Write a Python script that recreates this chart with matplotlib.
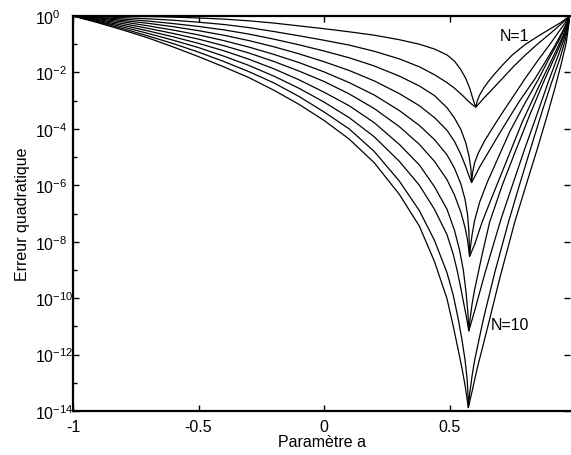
import numpy as np
import matplotlib
matplotlib.use("Agg")
import matplotlib.pyplot as plt
from matplotlib.ticker import FixedLocator, FuncFormatter, NullFormatter

plt.rcParams["font.family"] = "Liberation Sans"
plt.rcParams["mathtext.fontset"] = "custom"
plt.rcParams["mathtext.rm"] = "Liberation Sans"
plt.rcParams["mathtext.it"] = "Liberation Sans:italic"
plt.rcParams["axes.unicode_minus"] = False

# valeurs : log10 de l'erreur quadratique, N = 1..10
# branche gauche, grille commune en a
LEFT_A = [-1.0, -0.9, -0.8, -0.7, -0.6, -0.5, -0.4, -0.3, -0.2, -0.1,
          0.0, 0.1, 0.2, 0.3, 0.38, 0.44, 0.49]
LEFT_LOG = [
    [0, -0.003, -0.01, -0.02, -0.04, -0.07, -0.11, -0.17, -0.25, -0.35,
     -0.45, -0.56, -0.68, -0.84, -1.00, -1.17, -1.38],
    [0, -0.025, -0.06, -0.10, -0.15, -0.22, -0.30, -0.41, -0.55, -0.70,
     -0.86, -1.03, -1.25, -1.52, -1.80, -2.08, -2.36],
    [0, -0.05, -0.11, -0.18, -0.27, -0.37, -0.49, -0.64, -0.82, -1.02,
     -1.24, -1.48, -1.77, -2.13, -2.48, -2.82, -3.25],
    [0, -0.07, -0.16, -0.26, -0.38, -0.52, -0.68, -0.87, -1.09, -1.34,
     -1.62, -1.93, -2.30, -2.75, -3.18, -3.60, -4.05],
    [0, -0.10, -0.21, -0.35, -0.50, -0.67, -0.87, -1.10, -1.36, -1.65,
     -1.98, -2.36, -2.80, -3.35, -3.88, -4.38, -4.92],
    [0, -0.13, -0.27, -0.44, -0.62, -0.82, -1.05, -1.31, -1.61, -1.95,
     -2.32, -2.76, -3.28, -3.92, -4.55, -5.15, -5.80],
    [0, -0.16, -0.33, -0.53, -0.74, -0.97, -1.23, -1.53, -1.87, -2.26,
     -2.70, -3.18, -3.78, -4.55, -5.28, -6.05, -6.85],
    [0, -0.19, -0.39, -0.62, -0.86, -1.12, -1.42, -1.75, -2.13, -2.56,
     -3.05, -3.60, -4.28, -5.15, -6.00, -6.85, -7.75],
    [0, -0.21, -0.45, -0.71, -0.98, -1.28, -1.61, -1.97, -2.37, -2.85,
     -3.40, -4.00, -4.80, -5.85, -6.90, -7.95, -9.10],
    [0, -0.24, -0.50, -0.78, -1.10, -1.44, -1.80, -2.18, -2.63, -3.13,
     -3.70, -4.36, -5.20, -6.32, -7.45, -8.70, -10.02],
]

# descente vers le minimum (dernier point = minimum)
TAIL_A = [
    [0.52, 0.545, 0.565, 0.58, 0.592, 0.6, 0.605],
    [0.52, 0.55, 0.575, 0.593, 0.605],
    [0.52, 0.545, 0.565, 0.578, 0.585, 0.588],
    [0.52, 0.545, 0.565, 0.578, 0.588],
    [0.52, 0.545, 0.562, 0.572, 0.577, 0.58],
    [0.52, 0.545, 0.562, 0.572, 0.58],
    [0.52, 0.54, 0.555, 0.566, 0.573, 0.577],
    [0.515, 0.53, 0.545, 0.558, 0.568, 0.577],
    [0.515, 0.535, 0.55, 0.562, 0.57, 0.573, 0.575],
    [0.515, 0.535, 0.55, 0.563, 0.575],
]
TAIL_LOG = [
    [-1.6, -1.9, -2.22, -2.55, -2.9, -3.12, -3.23],
    [-2.56, -2.8, -3.02, -3.16, -3.23],
    [-3.62, -4.02, -4.5, -4.98, -5.4, -5.9],
    [-4.45, -4.9, -5.35, -5.68, -5.9],
    [-5.4, -5.95, -6.5, -7.05, -7.6, -8.52],
    [-6.35, -6.95, -7.5, -7.95, -8.52],
    [-7.6, -8.3, -9.0, -9.8, -10.5, -11.16],
    [-8.45, -9.0, -9.65, -10.25, -10.7, -11.16],
    [-9.9, -10.75, -11.5, -12.2, -12.85, -13.3, -13.88],
    [-11.0, -11.85, -12.5, -13.15, -13.88],
]

# remontee a droite du minimum jusqu'au coin superieur droit
RIGHT_A = [
    [0.61, 0.62, 0.635, 0.655, 0.68, 0.71, 0.75, 0.8, 0.85, 0.9, 0.94, 0.98],
    [0.62, 0.64, 0.67, 0.709, 0.754, 0.8, 0.85, 0.9, 0.94, 0.98],
    [0.592, 0.6, 0.615, 0.64, 0.68, 0.72, 0.76, 0.8, 0.85, 0.9, 0.94, 0.98],
    [0.6, 0.62, 0.66, 0.7, 0.74, 0.78, 0.84, 0.88, 0.92, 0.95, 0.98],
    [0.584, 0.59, 0.6, 0.62, 0.65, 0.69, 0.74, 0.8, 0.855, 0.9, 0.94, 0.98],
    [0.6, 0.63, 0.67, 0.72, 0.79, 0.87, 0.91, 0.95, 0.98],
    [0.581, 0.59, 0.6, 0.63, 0.66, 0.71, 0.76, 0.82, 0.88, 0.93, 0.96, 0.98],
    [0.6, 0.64, 0.705, 0.76, 0.8, 0.85, 0.895, 0.935, 0.96, 0.98],
    [0.58, 0.59, 0.6, 0.635, 0.68, 0.735, 0.78, 0.83, 0.87, 0.905, 0.94,
     0.962, 0.98],
    [0.59, 0.61, 0.655, 0.7, 0.76, 0.81, 0.85, 0.89, 0.92, 0.945, 0.965, 0.98],
]
RIGHT_LOG = [
    [-3.02, -2.8, -2.57, -2.32, -2.05, -1.75, -1.38, -1.02, -0.73, -0.46,
     -0.25, 0.0],
    [-3.08, -2.88, -2.6, -2.23, -1.8, -1.4, -1.0, -0.63, -0.32, 0.0],
    [-5.55, -5.2, -4.85, -4.42, -3.85, -3.3, -2.77, -2.23, -1.6, -1.0,
     -0.5, 0.0],
    [-5.7, -5.35, -4.75, -4.15, -3.57, -3.0, -2.23, -1.65, -1.05, -0.55, 0.0],
    [-8.15, -7.75, -7.25, -6.6, -5.9, -5.1, -4.1, -3.1, -2.23, -1.45,
     -0.8, 0.0],
    [-8.1, -7.3, -6.4, -5.3, -3.75, -2.23, -1.5, -0.75, 0.0],
    [-10.8, -10.2, -9.7, -8.45, -7.3, -6.0, -4.85, -3.5, -2.23, -1.25,
     -0.62, 0.0],
    [-10.45, -9.15, -7.2, -5.75, -4.7, -3.45, -2.3, -1.35, -0.72, 0.0],
    [-13.4, -12.75, -12.2, -10.74, -9.1, -7.3, -5.95, -4.5, -3.35, -2.4,
     -1.5, -0.82, 0.0],
    [-13.3, -12.5, -10.92, -9.3, -7.3, -5.85, -4.7, -3.5, -2.55, -1.7,
     -0.95, 0.0],
]

X_TICKS = [-1, -0.5, 0, 0.5]
X_LABELS = ["-1", "-0.5", "0", "0.5"]
Y_MAJOR_EXP = [0, -2, -4, -6, -8, -10, -12, -14]
Y_MINOR_EXP = [-1, -3, -5, -7, -9, -11, -13]

fig = plt.figure(figsize=(5.71, 4.56), dpi=100)
ax = fig.add_axes([73 / 571, 1 - 412 / 456, 497 / 571, 395 / 456])

for i in range(10):
    a = LEFT_A + TAIL_A[i] + RIGHT_A[i]
    e = 10.0 ** np.array(LEFT_LOG[i] + TAIL_LOG[i] + RIGHT_LOG[i])
    ax.plot(a, e, color="black", lw=0.9)

ax.set_yscale("log")
ax.set_xlim(-1, 0.98)
ax.set_ylim(1e-14, 1)

ax.set_xticks(X_TICKS)
ax.set_xticklabels(X_LABELS)
ax.yaxis.set_major_locator(FixedLocator([10.0 ** k for k in Y_MAJOR_EXP]))
ax.yaxis.set_minor_locator(FixedLocator([10.0 ** k for k in Y_MINOR_EXP]))
ax.yaxis.set_major_formatter(FuncFormatter(lambda v, p: "$10^{%d}$" % round(np.log10(v))))
ax.yaxis.set_minor_formatter(NullFormatter())

ax.tick_params(which="both", direction="in", top=True, right=True, labelsize=11.5)
ax.tick_params(which="major", length=4, width=1)
ax.tick_params(which="minor", length=3, width=1, right=False, top=False)
ax.tick_params(axis="x", pad=6)
ax.tick_params(axis="y", pad=27.4)
plt.setp(ax.get_yticklabels(), ha="left")

ax.spines["right"].set_visible(False)
for s in ["left", "bottom", "top"]:
    ax.spines[s].set_linewidth(1.6)

ax.set_xlabel("Paramètre a", fontsize=11.5)
ax.set_ylabel("Erreur quadratique", fontsize=11.5)
ax.xaxis.set_label_coords(0.5, -0.058)
ax.yaxis.set_label_coords(-0.0865, 0.5)

ax.text(0.757, 10 ** -0.674, "N=1", ha="center", va="center", fontsize=11.5)
ax.text(0.741, 10 ** -10.92, "N=10", ha="center", va="center", fontsize=11.5)

fig.savefig("out.png", dpi=100)
